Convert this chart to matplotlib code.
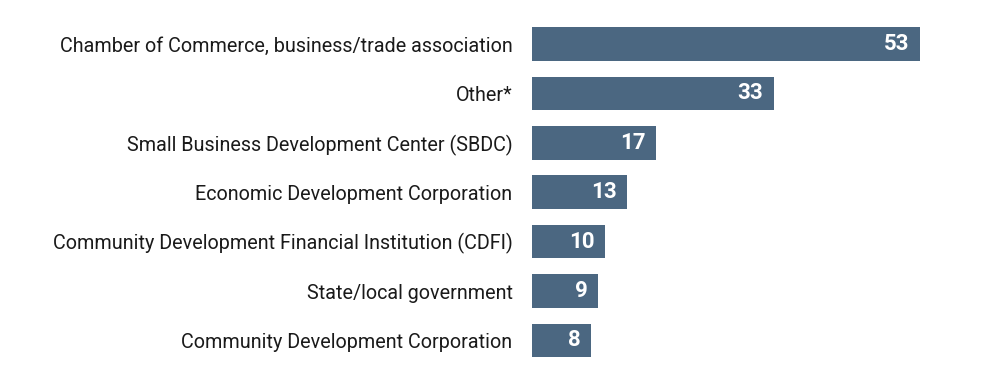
import matplotlib
matplotlib.use("Agg")
import matplotlib.pyplot as plt

categories = [
    "Chamber of Commerce, business/trade association",
    "Other*",
    "Small Business Development Center (SBDC)",
    "Economic Development Corporation",
    "Community Development Financial Institution (CDFI)",
    "State/local government",
    "Community Development Corporation",
]
values = [53, 33, 17, 13, 10, 9, 8]

plt.rcParams['font.family'] = ['Roboto', 'DejaVu Sans']

W, H = 991, 385
fig = plt.figure(figsize=(W / 100, H / 100), dpi=100)
left, right = 532, 920
top, bottom = 19.3, 365.1
ax = fig.add_axes([left / W, 1 - bottom / H, (right - left) / W, (bottom - top) / H])

color = "#4b6781"
ypos = list(range(len(categories)))
ax.barh(ypos, values, height=0.68, color=color)
ax.set_xlim(0, max(values))
ax.set_ylim(len(categories) - 0.5, -0.5)
ax.set_yticks(ypos)
ax.set_yticklabels(categories, fontsize=14.25, color="#1a1a1a")
ax.tick_params(axis="y", length=0, pad=14)
ax.set_xticks([])
for s in ax.spines.values():
    s.set_visible(False)

for y, v in zip(ypos, values):
    ax.annotate(str(v), xy=(v, y), xytext=(-7.5, 0), textcoords="offset points",
                ha="right", va="center", color="white", fontsize=16, fontweight="bold")

fig.savefig("out.png", dpi=100)
